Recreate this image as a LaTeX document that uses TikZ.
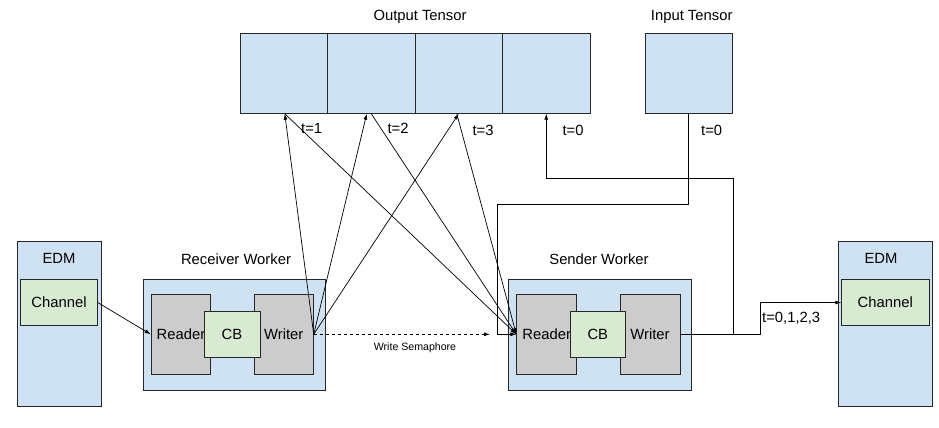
\documentclass[tikz,border=0pt]{standalone}
\usepackage{fontspec}
\setmainfont{Liberation Sans}
\usetikzlibrary{arrows.meta}
\definecolor{tensorblue}{HTML}{CFE2F3}
\definecolor{blockgray}{HTML}{CCCCCC}
\definecolor{cbgreen}{HTML}{D9EAD3}

\begin{document}
\begin{tikzpicture}[x=1pt, y=-1pt,
	box/.style={draw=black!85, line width=0.8pt, inner sep=0pt, font=\fontsize{14.8}{17}\selectfont},
	txt/.style={inner sep=0pt, font=\fontsize{14.8}{17}\selectfont},
	arr/.style={-{Latex[length=6pt,width=4pt]}, line width=0.7pt}]

	\useasboundingbox (0,0) rectangle (939,428);

	\node[box, fill=tensorblue, minimum width=87.5, minimum height=80] (c1) at (283.75,73.3) {};
	\node[box, fill=tensorblue, minimum width=87.5, minimum height=80] (c2) at (371.25,73.3) {};
	\node[box, fill=tensorblue, minimum width=87.5, minimum height=80] (c3) at (458.75,73.3) {};
	\node[box, fill=tensorblue, minimum width=87.5, minimum height=80] (c4) at (546.25,73.3) {};
	\node[box, fill=tensorblue, minimum width=87.7, minimum height=80] (in) at (688.8,73.3) {};
	\node[txt] (outLabel) at (420,17) {Output Tensor};
	\node[txt] (inLabel) at (691.7,17) {Input Tensor};

	\node[box, fill=tensorblue, minimum width=83.7, minimum height=164.3] (edm1) at (59.2,323.8) {};
	\node[txt] (edm1Label) at (59,258) {EDM};
	\node[box, fill=cbgreen, minimum width=76.6, minimum height=46.4] (ch1) at (59,302.5) {Channel};

	\node[box, fill=tensorblue, minimum width=94, minimum height=164.3] (edm2) at (885.3,323.8) {};
	\node[txt] (edm2Label) at (881,258) {EDM};
	\node[box, fill=cbgreen, minimum width=87.3, minimum height=46.4] (ch2) at (885.3,302.5) {Channel};

	\node[txt] (recLabel) at (236,259) {Receiver Worker};
	\node[box, fill=tensorblue, minimum width=182.4, minimum height=110.7] (rec) at (234.5,334.7) {};
	\node[box, fill=blockgray, minimum width=59.7, minimum height=80] (rr) at (181,334.3) {Reader};
	\node[box, fill=blockgray, minimum width=59, minimum height=80] (rw) at (283.8,334.3) {Writer};
	\node[box, fill=cbgreen, minimum width=56, minimum height=46.3] (rcb) at (232,334.2) {CB};

	\node[txt] (sendLabel) at (599,259) {Sender Worker};
	\node[box, fill=tensorblue, minimum width=183.4, minimum height=110.7] (send) at (600,334.7) {};
	\node[box, fill=blockgray, minimum width=60, minimum height=80] (sr) at (546.7,334.3) {Reader};
	\node[box, fill=blockgray, minimum width=60, minimum height=80] (sw) at (650,334.3) {Writer};
	\node[box, fill=cbgreen, minimum width=55.7, minimum height=46.3] (scb) at (597.8,334.2) {CB};

	\node[txt] (t1) at (311.7,128) {t=1};
	\node[txt] (t2) at (398,128) {t=2};
	\node[txt] (t3) at (483,130) {t=3};
	\node[txt] (t0out) at (573,130) {t=0};
	\node[txt] (t0in) at (711.7,130) {t=0};
	\node[txt, anchor=west] (tall) at (762,318) {t=0,1,2,3};
	\node[inner sep=0pt, font=\fontsize{10.6}{12}\selectfont] (semLabel) at (415,348) {Write Semaphore};

	\coordinate (semEnd) at (490,334.3);
	\coordinate (inBend) at (497,204);
	\coordinate (split) at (733,334.3);
	\coordinate (loopTop) at (733,178);
	\coordinate (chBend) at (760,334.3);

	\draw[arr] (ch1.east) -- (rr.west);

	\draw[arr] (rw.east) -- ([xshift=1]c1.south);
	\draw[arr] (rw.east) -- ([xshift=-4.5]c2.south);
	\draw[arr] (rw.east) -- (c3.south);
	\draw[arr, dashed] (rw.east) -- (semEnd);

	\draw[arr] ([xshift=1]c1.south) -- (sr.west);
	\draw[arr] (c2.south) -- (sr.west);
	\draw[arr] ([xshift=-2]c3.south) -- (sr.west);
	\draw[arr] (in.south) |- (inBend) |- (sr.west);

	\draw[arr] (sw.east) -- (split) -- (loopTop) -| (c4.south);
	\draw[arr] (split) -- (chBend) |- (ch2.west);

\end{tikzpicture}
\end{document}
